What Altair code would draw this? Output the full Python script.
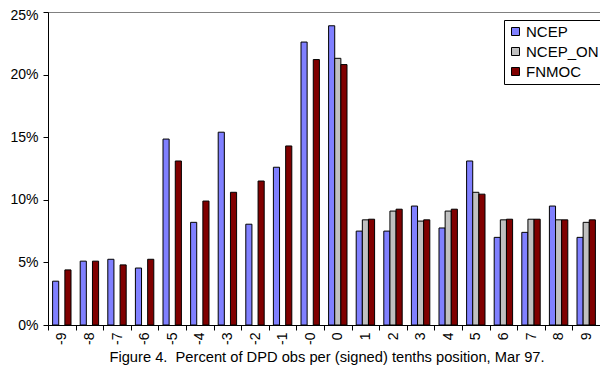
import altair as alt
import pandas as pd

categories = ["-9", "-8", "-7", "-6", "-5", "-4", "-3", "-2", "-1", "-0",
              "0", "1", "2", "3", "4", "5", "6", "7", "8", "9"]
series = ["NCEP", "NCEP_ON", "FNMOC"]
ncep = [3.5, 5.1, 5.25, 4.55, 14.85, 8.2, 15.4, 8.05, 12.6, 22.6,
        23.9, 7.5, 7.5, 9.5, 7.75, 13.1, 7.0, 7.4, 9.5, 7.0]
ncep_on = [None] * 10 + [21.3, 8.4, 9.1, 8.3, 9.1, 10.6, 8.4, 8.45, 8.4, 8.2]
fnmoc = [4.4, 5.1, 4.8, 5.25, 13.1, 9.9, 10.6, 11.5, 14.3, 21.2,
         20.8, 8.45, 9.25, 8.4, 9.25, 10.45, 8.45, 8.45, 8.4, 8.4]
colors = ["#8080FF", "#C0C0C0", "#800000"]
title_text = "Figure 4.\u00a0 Percent of DPD obs per (signed) tenths position, Mar 97."

rows = []
for name, vals in zip(series, [ncep, ncep_on, fnmoc]):
    for c, v in zip(categories, vals):
        if v is not None:
            rows.append({"pos": c, "series": name, "pct": v})
df = pd.DataFrame(rows)

FONT = "Liberation Sans"

chart = alt.Chart(df).mark_bar(stroke="black", strokeWidth=1).encode(
    x=alt.X("pos:N", sort=categories,
            scale=alt.Scale(domain=categories, paddingInner=0, paddingOuter=0),
            axis=alt.Axis(title=None, labelAngle=270, labelAlign="right",
                          labelBaseline="middle", labelPadding=2,
                          tickBand="extent", tickSize=5, tickColor="black",
                          domainColor="black", labelColor="black",
                          labelFont=FONT, labelFontSize=14)),
    xOffset=alt.XOffset("series:N", sort=series,
                        scale=alt.Scale(domain=series, paddingOuter=0.75, paddingInner=0)),
    y=alt.Y("pct:Q", scale=alt.Scale(domain=[0, 25]),
            axis=alt.Axis(title=None, values=[0, 5, 10, 15, 20, 25],
                          labelExpr="datum.value + '%'", grid=False,
                          tickSize=5, tickColor="black", domainColor="black",
                          labelColor="black", labelPadding=5,
                          labelOffset={"condition": {"test": "datum.value == 25", "value": 3}, "value": 0},
                          labelFont=FONT, labelFontSize=14)),
    color=alt.Color("series:N", sort=series,
                    scale=alt.Scale(domain=series, range=colors),
                    legend=alt.Legend(title=None, orient="none", legendX=456, legendY=8,
                                      symbolType="square", symbolSize=64,
                                      symbolStrokeColor="black", symbolStrokeWidth=1,
                                      labelFont=FONT, labelFontSize=15, labelColor="black",
                                      labelOffset=3, rowPadding=4, padding=4,
                                      strokeColor="black", fillColor="white",
                                      labelLimit=200)),
).properties(
    width=552, height=313,
    title=alt.TitleParams(title_text, orient="bottom", anchor="middle",
                          font=FONT, fontSize=14.7, fontWeight="normal",
                          color="black", offset=6, dx=3),
    autosize=alt.AutoSizeParams(type="none"),
    padding={"left": 40, "top": 4, "right": 0, "bottom": 46},
).configure_view(stroke="#808080", strokeWidth=1)

chart.save("out.html", embed_options={"renderer": "svg", "actions": False})
